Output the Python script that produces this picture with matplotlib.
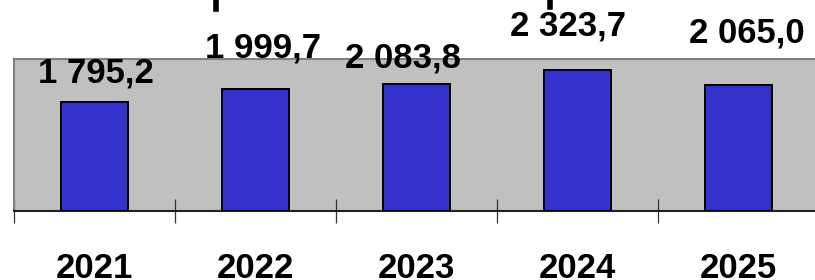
import matplotlib
matplotlib.use("Agg")
import matplotlib.pyplot as plt
from matplotlib.lines import Line2D

years = ["2021", "2022", "2023", "2024", "2025"]
values = [1795.2, 1999.7, 2083.8, 2323.7, 2065.0]
value_labels = ["1 795,2", "1 999,7", "2 083,8", "2 323,7", "2 065,0"]

# hand placed label offsets (pixels) as in the original
label_dx = [1, 7.5, -13.5, -9, 8]
label_dy = [19, 32, 17, 34.5, 43]

plt.rcParams['font.family'] = ['Liberation Sans', 'DejaVu Sans']

W, H = 815, 280
fig = plt.figure(figsize=(W / 100, H / 100), dpi=100)
ax = fig.add_axes([14 / W, 1 - 211 / H, (819 - 14) / W, (211 - 59) / H])
ax.set_facecolor("#C0C0C0")

x = range(len(years))
ax.bar(x, values, width=0.41, color="#3333CC", edgecolor="black", linewidth=1.4, zorder=3)

ax.set_xlim(-0.5, len(years) - 0.5)
ax.set_ylim(0, 2500)
ax.set_yticks([])

# boundary ticks crossing the axis
ax.set_xticks([i - 0.5 for i in range(len(years) + 1)])
ax.set_xticklabels([])
ax.tick_params(axis="x", which="major", direction="inout", length=17, width=0.9, color="#333333")
# year labels at category centres
ax.set_xticks(list(x), labels=years, minor=True)
ax.tick_params(axis="x", which="minor", length=0, pad=29.5, labelsize=25)
for t in ax.get_xticklabels(minor=True):
    t.set_fontweight("bold")

for s in ["top", "left", "right"]:
    ax.spines[s].set_color("#808080")
    ax.spines[s].set_linewidth(1.5)
ax.spines["bottom"].set_color("#222222")
ax.spines["bottom"].set_linewidth(1.5)

for i, v in enumerate(values):
    ax.annotate(value_labels[i], xy=(i, v), xytext=(label_dx[i] * 0.72, label_dy[i] * 0.72),
                textcoords="offset points", ha="center", va="baseline",
                fontsize=25, fontweight="bold", annotation_clip=False, zorder=4)

# bits of the cut-off title at the top edge
fig.add_artist(Line2D([216 / W, 216 / W], [1, 1 - 9 / H], color="black", lw=4))
fig.add_artist(Line2D([550 / W, 550 / W], [1, 1 - 7 / H], color="black", lw=4))

fig.savefig("out.png", dpi=100)
